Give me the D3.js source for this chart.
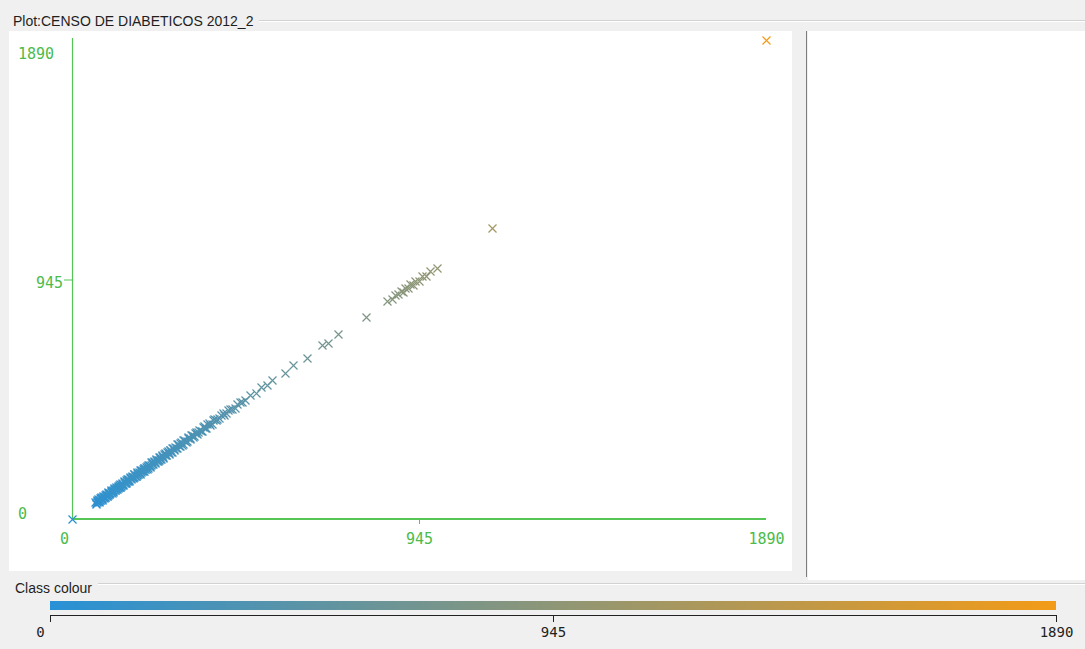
<!DOCTYPE html>
<html>
<head>
<meta charset="utf-8">
<script src="https://cdn.jsdelivr.net/npm/d3@7"></script>
<style>
  html, body { margin: 0; padding: 0; background: #f0f0f0; }
  svg { display: block; }
</style>
</head>
<body>
<svg id="chart" width="1085" height="649"></svg>
<script>
// ---- data -------------------------------------------------------------
const plotTitle = "Plot:CENSO DE DIABETICOS 2012_2";
const legendTitle = "Class colour";
const axisTicks = [0, 945, 1890];
const classRange = [0, 1890];
const classColours = ["#2891d6", "#f39b17"];

// [x, y] per record; class colour follows the y value
const cases = [
  [0, 0],
  [63, 68], [66, 63], [68, 76], [71, 72], [73, 69], [75, 81], [77, 75], [80, 83], [82, 76], [84, 88],
  [86, 86], [89, 96], [91, 88], [93, 95], [95, 90], [98, 103], [100, 101], [102, 98], [105, 111], [107, 106],
  [109, 112], [112, 107], [114, 122], [116, 114], [119, 121], [121, 117], [124, 129], [126, 126], [128, 125], [131, 137],
  [133, 132], [136, 139], [138, 133], [141, 146], [143, 143], [146, 142], [148, 155], [151, 150], [153, 157], [156, 150],
  [158, 164], [161, 160], [164, 167], [166, 161], [169, 176], [171, 170], [174, 171], [177, 183], [179, 178], [182, 186],
  [185, 179], [187, 193], [190, 189], [193, 190], [196, 202], [198, 197], [201, 205], [204, 198], [207, 213], [210, 209],
  [213, 209], [216, 223], [219, 218], [222, 226], [225, 219], [228, 234], [231, 230], [234, 231], [237, 244], [240, 238],
  [244, 249], [247, 241], [250, 257], [254, 253], [257, 253], [261, 268], [264, 262], [268, 273], [271, 265], [275, 282],
  [279, 278], [283, 279], [287, 294], [291, 289], [295, 300], [299, 293], [303, 310], [308, 307], [312, 308], [317, 324],
  [322, 320], [327, 332], [332, 326], [338, 345], [344, 342], [350, 347], [356, 363], [362, 360], [369, 374], [376, 371],
  [384, 391], [392, 390], [401, 398], [410, 417], [420, 418], [431, 436], [443, 439], [457, 463], [472, 470], [486, 491],
  [500, 497], [515, 520], [531, 528], [545, 549], [580, 578], [602, 606], [640, 637], [681, 685], [697, 694], [724, 728],
  [801, 797], [858, 862], [871, 868], [880, 885], [889, 886], [895, 899], [902, 897], [908, 913], [915, 911], [921, 926],
  [928, 925], [935, 939], [944, 940], [952, 957], [963, 960], [975, 979], [994, 991], [1144, 1148], [1890, 1890],
  [64, 61], [67, 72], [69, 66], [72, 78], [74, 71], [76, 73], [79, 85], [81, 79], [83, 81], [85, 92],
  [87, 84], [90, 88], [92, 99], [94, 92], [97, 94], [99, 106], [101, 97], [104, 102], [106, 113], [108, 104],
  [111, 115], [113, 110], [115, 118], [118, 113], [120, 126], [122, 120], [125, 122], [127, 133], [130, 127], [132, 128],
  [135, 142], [137, 135], [140, 137], [142, 149], [145, 141], [147, 145], [150, 157], [152, 148], [155, 153], [157, 161],
  [160, 156], [163, 170], [165, 164], [168, 164], [170, 177], [173, 169], [176, 174], [178, 185], [181, 177], [184, 181],
  [186, 192], [189, 185], [192, 196], [195, 191], [197, 203], [200, 196], [203, 208], [206, 201], [209, 215], [212, 207],
  [215, 212], [218, 225], [221, 216], [224, 229], [227, 223], [230, 236], [233, 228], [236, 233], [239, 246], [242, 237],
  [246, 251], [249, 245], [252, 259], [256, 251], [259, 264], [263, 258], [266, 272], [270, 266], [273, 279], [277, 272],
  [281, 286], [285, 281], [289, 295], [293, 287], [297, 303], [301, 297], [306, 312], [310, 305], [315, 320], [320, 315],
  [325, 331], [330, 325], [335, 341], [341, 337], [347, 352], [353, 349], [359, 365], [366, 361], [372, 378], [380, 376],
  [388, 393], [396, 393], [405, 409], [415, 411], [425, 430], [437, 433], [450, 455], [464, 460]
];

// ---- setup ------------------------------------------------------------
const W = 1085, H = 649;
const axisGreen = "#55c655";
const labelGreen = "#4cbb4c";
const monoFont = "'DejaVu Sans Mono', monospace";
const uiFont = "'Liberation Sans', Arial, sans-serif";
const fmt = d3.format("d");

const svg = d3.select("#chart");
svg.append("rect").attr("width", W).attr("height", H).attr("fill", "#f0f0f0");

// titled-border rule helper (grey line with a white highlight beneath)
function etchedRule(x1, x2, y) {
  svg.append("line").attr("x1", x1).attr("x2", x2).attr("y1", y + 0.5).attr("y2", y + 0.5)
    .attr("stroke", "#d2d2d2");
  svg.append("line").attr("x1", x1).attr("x2", x2).attr("y1", y + 1.5).attr("y2", y + 1.5)
    .attr("stroke", "#ffffff");
}

// ---- panels -----------------------------------------------------------
svg.append("text").attr("x", 13).attr("y", 26)
  .attr("font-family", uiFont).attr("font-size", 14).attr("fill", "#1e1e1e")
  .text(plotTitle);
etchedRule(259, W, 20);

svg.append("rect").attr("x", 9).attr("y", 31).attr("width", 783).attr("height", 540).attr("fill", "#ffffff");
svg.append("rect").attr("x", 808).attr("y", 31).attr("width", W - 808).attr("height", 549).attr("fill", "#ffffff");
svg.append("line").attr("x1", 806.5).attr("x2", 806.5).attr("y1", 31).attr("y2", 577)
  .attr("stroke", "#7d7d7d");

// ---- scatter plot ------------------------------------------------------
const x = d3.scaleLinear().domain(classRange).range([72, 766]);
const y = d3.scaleLinear().domain(classRange).range([519, 40]);
const colour = d3.scaleLinear().domain(classRange).range(classColours).interpolate(d3.interpolateRgb);

// x axis
const gx = svg.append("g").attr("transform", "translate(0,518)").style("color", axisGreen)
  .call(d3.axisBottom(x).tickValues(axisTicks).tickFormat(fmt)
    .tickSizeInner(6).tickSizeOuter(0).tickPadding(9));
gx.select(".domain").remove();
gx.append("rect").attr("class", "axis-line")
  .attr("x", x(0)).attr("y", 0).attr("width", x(1890) - x(0)).attr("height", 2)
  .style("fill", axisGreen).style("shape-rendering", "crispEdges");
gx.selectAll(".tick line").style("stroke", axisGreen).attr("opacity", d => d === 945 ? 1 : 0);
gx.selectAll(".tick text")
  .attr("font-family", monoFont).attr("font-size", 15).attr("fill", labelGreen)
  .attr("dx", d => d === 0 ? -8 : 0);

// y axis
const gy = svg.append("g").attr("transform", "translate(72,0)").style("color", axisGreen)
  .call(d3.axisLeft(y).tickValues(axisTicks).tickFormat(fmt)
    .tickSizeInner(8).tickSizeOuter(0).tickPadding(1));
gy.select(".domain").remove();
gy.append("line").attr("class", "axis-line")
  .attr("x1", 0.5).attr("x2", 0.5).attr("y1", y(0)).attr("y2", 38)
  .style("stroke", axisGreen).style("stroke-width", 1.2);
gy.selectAll(".tick line").style("stroke", axisGreen).attr("opacity", d => d === 945 ? 1 : 0);
gy.selectAll(".tick text")
  .attr("font-family", monoFont).attr("font-size", 15).attr("fill", labelGreen)
  .attr("text-anchor", d => d === 945 ? "end" : "start")
  .attr("x", d => d === 945 ? -9 : -54)
  .attr("dy", d => d === 1890 ? "1.25em" : d === 0 ? "-0.05em" : "0.5em");

// markers
const s = 4;
svg.append("g").selectAll("path").data(cases).join("path")
  .attr("d", d => {
    const cx = Math.round(x(d[0])) + 0.5, cy = Math.round(y(d[1])) + 0.5;
    return `M${cx - s},${cy - s}L${cx + s},${cy + s}M${cx - s},${cy + s}L${cx + s},${cy - s}`;
  })
  .attr("fill", "none")
  .attr("stroke", d => colour(d[1]))
  .attr("stroke-width", 1.2);

// ---- class colour legend ----------------------------------------------
svg.append("text").attr("x", 15).attr("y", 593)
  .attr("font-family", uiFont).attr("font-size", 14).attr("fill", "#1e1e1e")
  .text(legendTitle);
etchedRule(98, W, 583);

const legendX = d3.scaleLinear().domain(classRange).range([50, 1056]);
const grad = svg.append("defs").append("linearGradient").attr("id", "classGradient")
  .attr("x1", "0%").attr("x2", "100%");
grad.selectAll("stop").data(classRange).join("stop")
  .attr("offset", d => `${(legendX(d) - 50) / (1056 - 50) * 100}%`)
  .attr("stop-color", d => colour(d));

svg.append("rect").attr("x", legendX(0)).attr("y", 601)
  .attr("width", legendX(1890) - legendX(0)).attr("height", 9)
  .attr("fill", "url(#classGradient)");

const gl = svg.append("g").attr("transform", "translate(0,615)")
  .call(d3.axisBottom(legendX).tickValues(axisTicks).tickFormat(fmt)
    .tickSizeInner(7).tickSizeOuter(0).tickPadding(5));
gl.select(".domain").attr("stroke", "#222").attr("d", `M${legendX(0)},0.5H${legendX(1890) + 1}`);
gl.selectAll(".tick line").attr("stroke", "#222");
gl.selectAll(".tick text")
  .attr("font-family", monoFont).attr("font-size", 14).attr("fill", "#222")
  .attr("dx", d => d === 0 ? -10 : 0);
</script>
</body>
</html>
